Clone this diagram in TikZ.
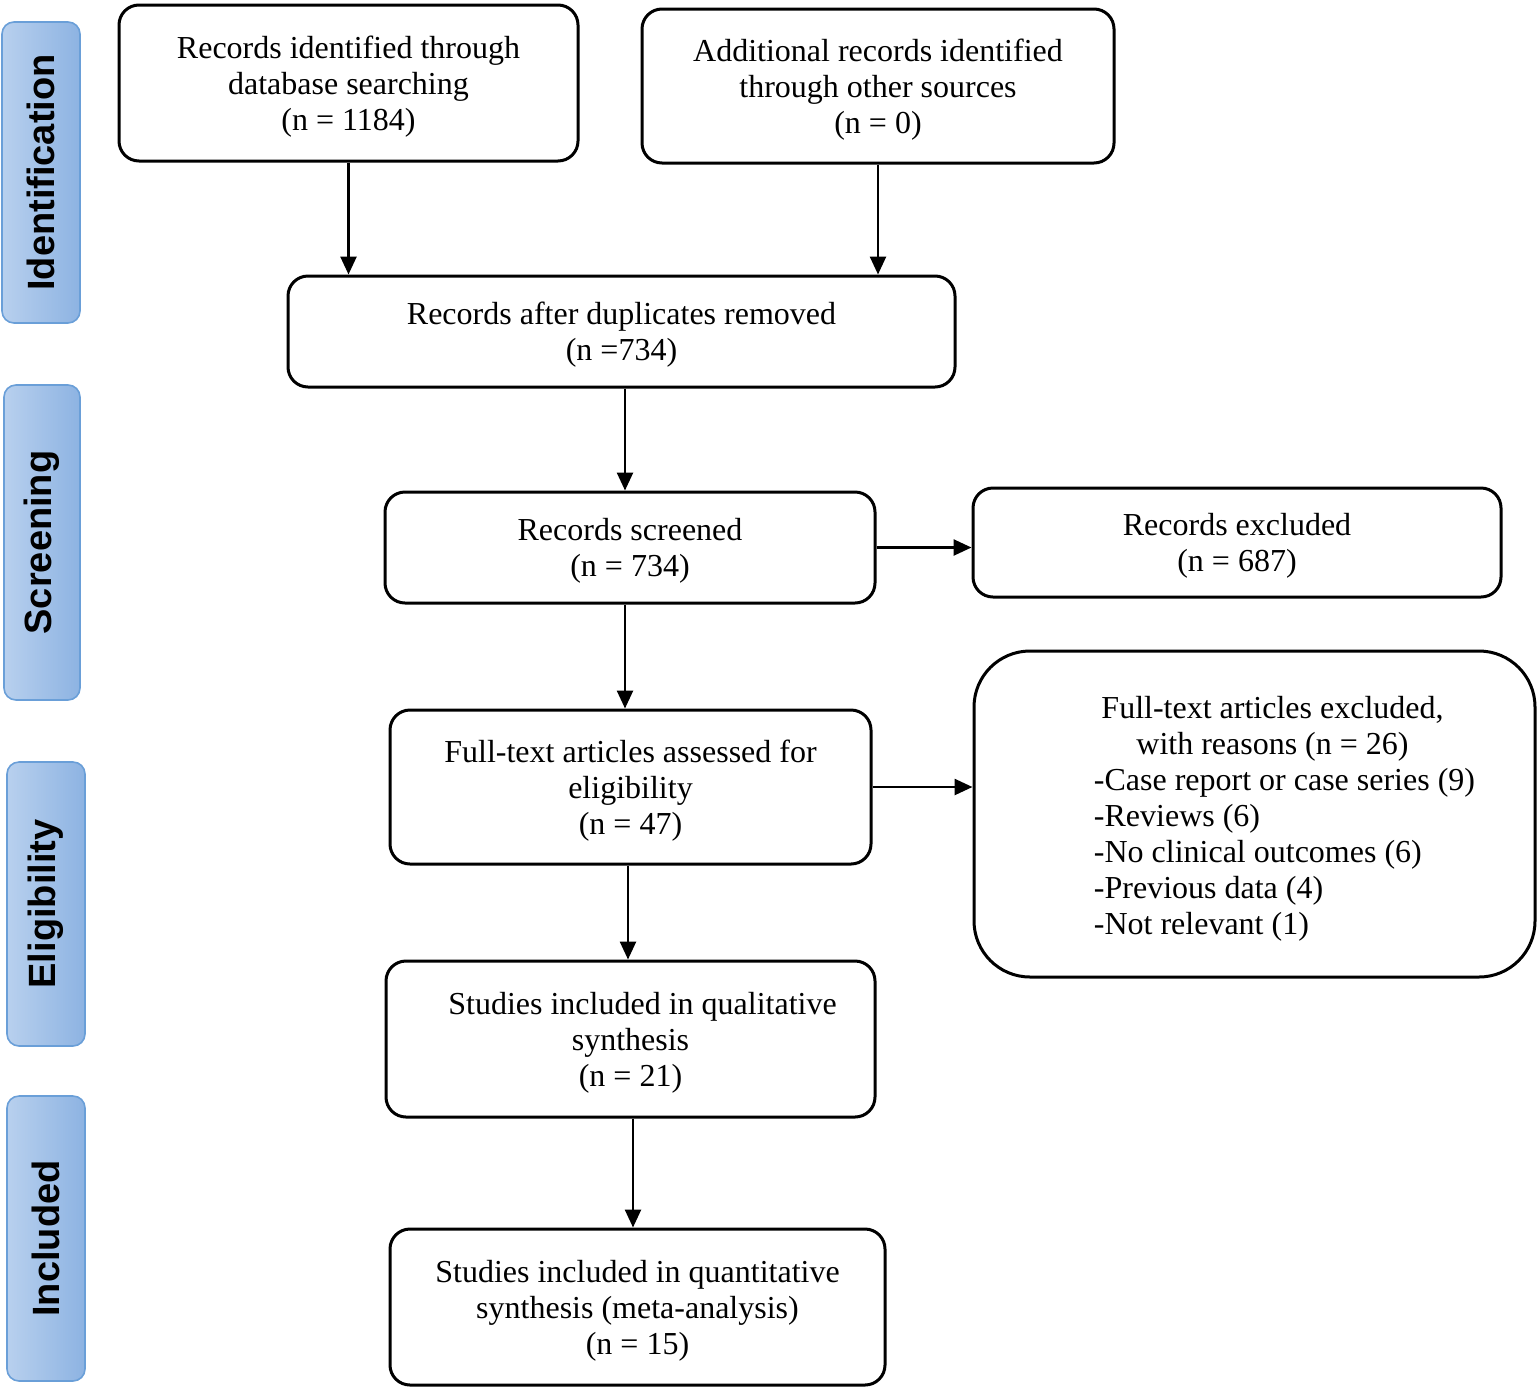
\documentclass[tikz,border=0pt]{standalone}
\usepackage{fontspec}
\setmainfont{Liberation Serif}
\newfontfamily\sidefont{Liberation Sans}
\usetikzlibrary{arrows.meta}
\definecolor{sidelight}{HTML}{B8D0EE}
\definecolor{sidedark}{HTML}{8DB3E2}
\definecolor{sideedge}{HTML}{6A9FD8}
\begin{document}
\begin{tikzpicture}[x=0.5pt,y=-0.5pt,
  box/.style={draw, line width=1.5pt, rounded corners=10pt, align=center, inner sep=0pt,
    text depth=0pt, font=\fontsize{16}{18}\selectfont},
  side/.style={draw=sideedge, line width=0.8pt, rounded corners=6pt, left color=sidelight,
    right color=sidedark, rotate=90, inner sep=0pt,
    font=\sidefont\bfseries\fontsize{19}{22}\selectfont},
  arr/.style={-{Triangle[length=9pt,width=8pt]}, line width=1.3pt}]
\useasboundingbox (0,0) rectangle (1540,1387);

% side labels
\node[side, minimum width=150.5pt, minimum height=39pt] (s1) at (41,172.5) {Identification};
\node[side, minimum width=157.5pt, minimum height=38pt] (s2) at (42,542.5) {Screening};
\node[side, minimum width=142pt, minimum height=39pt] (s3) at (46,904) {Eligibility};
\node[side, minimum width=142.5pt, minimum height=39pt] (s4) at (46,1238.5) {Included};

% boxes
\node[box, minimum width=229.5pt, minimum height=78pt] (A) at (348.5,83)
  {Records identified through\\database searching\\(n = 1184)};
\node[box, minimum width=236pt, minimum height=77pt] (B) at (878,86)
  {Additional records identified\\through other sources\\(n = 0)};
\node[box, minimum width=333.5pt, minimum height=55.5pt] (C) at (621.5,331.5)
  {Records after duplicates removed\\(n =734)};
\node[box, minimum width=245pt, minimum height=55.5pt] (D) at (630,547.5)
  {Records screened\\(n = 734)};
\node[box, minimum width=264pt, minimum height=54.5pt] (E) at (1237,542.5)
  {Records excluded\\(n = 687)};
\node[box, minimum width=240.5pt, minimum height=77pt] (F) at (630.5,787)
  {Full-text articles assessed for\\eligibility\\(n = 47)};
\node[box, rounded corners=28pt, minimum width=280.5pt, minimum height=163pt] (G) at (1254.5,814)
  {\hspace*{30pt}\begin{tabular}[b]{@{}l@{}}
   \multicolumn{1}{@{}c@{}}{Full-text articles excluded,\hspace*{12pt}}\\
   \multicolumn{1}{@{}c@{}}{with reasons (n = 26)\hspace*{12pt}}\\
   -Case report or case series (9)\\
   -Reviews (6)\\
   -No clinical outcomes (6)\\
   -Previous data (4)\\
   -Not relevant (1)
   \end{tabular}};
\node[box, minimum width=244.5pt, minimum height=78pt] (H) at (630.5,1039)
  {\hspace*{12pt}Studies included in qualitative\\synthesis\\(n = 21)};
\node[box, minimum width=247.5pt, minimum height=78pt] (I) at (637.5,1307)
  {Studies included in quantitative\\synthesis (meta-analysis)\\(n = 15)};

% connectors
\coordinate (cd) at (625,0);
\coordinate (fh) at (628,0);
\coordinate (hi) at (633,0);
\draw[arr] (A.south) -- (A.south |- C.north);
\draw[arr] (B.south) -- (B.south |- C.north);
\draw[arr] (C.south -| cd) -- (D.north -| cd);
\draw[arr] (D.east) -- (D.east -| E.west);
\draw[arr] (D.south -| cd) -- (F.north -| cd);
\draw[arr] (F.east) -- (F.east -| G.west);
\draw[arr] (F.south -| fh) -- (H.north -| fh);
\draw[arr] (H.south -| hi) -- (I.north -| hi);
\end{tikzpicture}
\end{document}
